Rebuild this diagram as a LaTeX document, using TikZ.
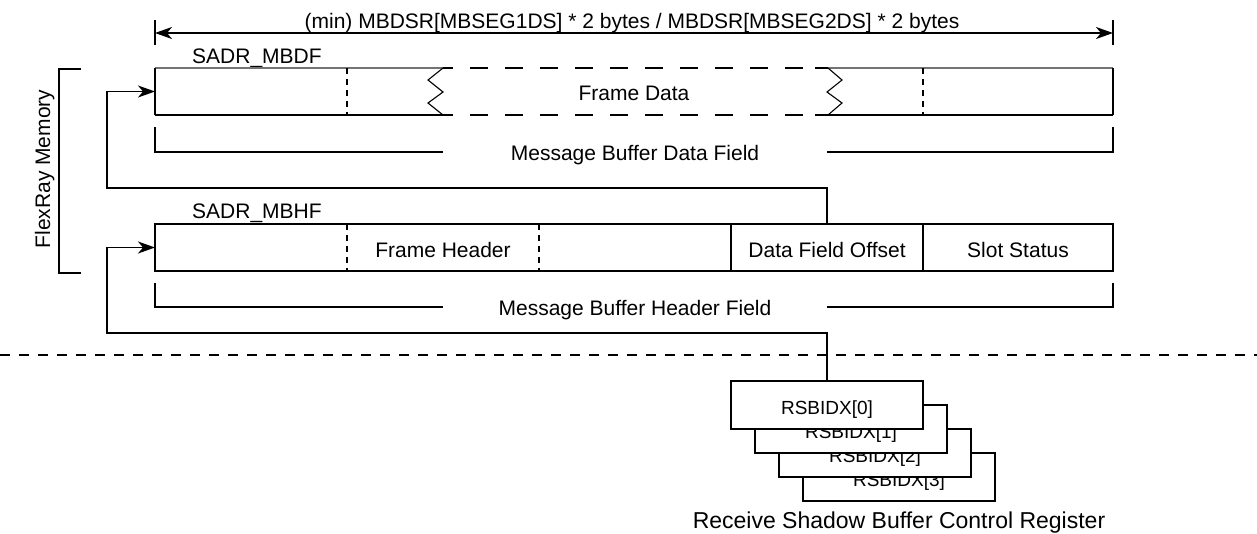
\documentclass[tikz,border=0pt]{standalone}
\usepackage{fontspec}
\setmainfont{Liberation Sans}
\usetikzlibrary{arrows.meta}
\begin{document}
\begin{tikzpicture}[x=1pt,y=-1pt,
  lbl/.style={font=\fontsize{21}{25}\selectfont, inner sep=0pt, anchor=base},
  rlbl/.style={font=\fontsize{19}{23}\selectfont, inner sep=0pt, anchor=base},
  ln/.style={line width=1.8pt},
  thin line/.style={line width=1.1pt},
  dsh/.style={line width=1.8pt, dash pattern=on 6pt off 5pt},
  longdsh/.style={line width=1.8pt, dash pattern=on 18pt off 17pt, dash phase=18pt},
  arr/.style={-{Stealth[length=17pt,width=12pt,inset=5pt]}},
  box/.style={draw, line width=1.8pt, inner sep=0pt, outer sep=0pt, minimum width=192pt, minimum height=47pt},
  area/.style={inner sep=0pt, outer sep=0pt, minimum width=958pt, minimum height=47pt}]
\useasboundingbox (0,0) rectangle (1257,533);

% ---- dimension arrow
\coordinate (dimL) at (155,33);
\coordinate (dimR) at (1113,33);
\draw[ln] (155,20) -- (155,45);
\draw[ln] (1113,20) -- (1113,45);
\draw[ln,{Stealth[length=17pt,width=12pt,inset=5pt]}-{Stealth[length=17pt,width=12pt,inset=5pt]}] (dimL) -- (dimR);
\node[lbl] (dimtxt) at (632,28) {(min) MBDSR[MBSEG1DS] * 2 bytes / MBDSR[MBSEG2DS] * 2 bytes};

% ---- data field
\node[lbl, anchor=base west] (sadrdf) at (192,63) {SADR\_MBDF};
\node[area] (databox) at (634,91.5) {};
\draw[thin line, black!55] (155,68) -- (443,68);
\draw[thin line, black!55] (828,68) -- (1113,68);
\draw[ln] (443,68) -- (453,68);
\draw[ln] (815,68) -- (828,68);
\draw[ln] (155,115) -- (453,115);
\draw[ln] (815,115) -- (1113,115);
\draw[longdsh] (453,68) -- (815,68);
\draw[longdsh] (453,115) -- (815,115);
\draw[ln] (155,68) -- (155,115);
\draw[ln] (1113,68) -- (1113,115);
\draw[thin line] (443,68) -- (428,80) -- (443,92) -- (428,103) -- (443,115);
\draw[thin line] (828,68) -- (842,80) -- (827,92) -- (842,103) -- (828,115);
\draw[dsh] (347,68) -- (347,115);
\draw[dsh] (923,68) -- (923,115);
\node[lbl] (framedata) at (634,100) {Frame Data};

% bracket under data field
\node[lbl] (mbdf) at (635,160) {Message Buffer Data Field};
\draw[ln] (155,127) -- (155,152) -- (443,152);
\draw[ln] (827,152) -- (1113,152) -- (1113,127);

% ---- header field
\node[lbl, anchor=base west] (sadrhf) at (192,218) {SADR\_MBHF};
\node[area, draw, line width=1.8pt] (hdrbox) at (634,247.5) {};
\draw[dsh] (347,224) -- (347,271);
\draw[dsh] (539,224) -- (539,271);
\node[box] (dfo) at (827,247.5) {};
\node[lbl] (fh) at (443,257) {Frame Header};
\node[lbl] (dfotxt) at (827,257) {Data Field Offset};
\node[lbl] (ss) at (1018,257) {Slot Status};

% bracket under header field
\node[lbl] (mbhf) at (635,315) {Message Buffer Header Field};
\draw[ln] (155,283) -- (155,307) -- (443,307);
\draw[ln] (827,307) -- (1113,307) -- (1113,283);

% ---- FlexRay memory bracket
\draw[ln] (81,69) -- (59,69) -- (59,273) -- (81,273);
\node[lbl, rotate=90] (flex) at (50,169) {FlexRay Memory};

% ---- separator
\draw[line width=1.5pt, dash pattern=on 10pt off 9pt] (0,355) -- (1257,355);

% ---- RSBIDX registers
\node[box, fill=white, minimum height=48pt] (rs3) at (899,477) {};
\node[rlbl] (rs3t) at (899,486) {RSBIDX[3]};
\node[box, fill=white, minimum height=48pt] (rs2) at (875,453) {};
\node[rlbl] (rs2t) at (875,462) {RSBIDX[2]};
\node[box, fill=white, minimum height=48pt] (rs1) at (851,429) {};
\node[rlbl] (rs1t) at (851,438) {RSBIDX[1]};
\node[box, fill=white, minimum height=48pt] (rs0) at (827,405) {};
\node[rlbl] (rs0t) at (827,414) {RSBIDX[0]};
\node[font=\fontsize{23}{27}\selectfont, inner sep=0pt, anchor=base] (rsbcr) at (899,528) {Receive Shadow Buffer Control Register};

% ---- connectors
\coordinate (kA) at (107,188);
\coordinate (kB) at (107,333);
\draw[ln,arr] (dfo.north) |- (kA) |- (databox.west);
\draw[ln,arr] (rs0.north) |- (kB) |- (hdrbox.west);
\end{tikzpicture}
\end{document}
